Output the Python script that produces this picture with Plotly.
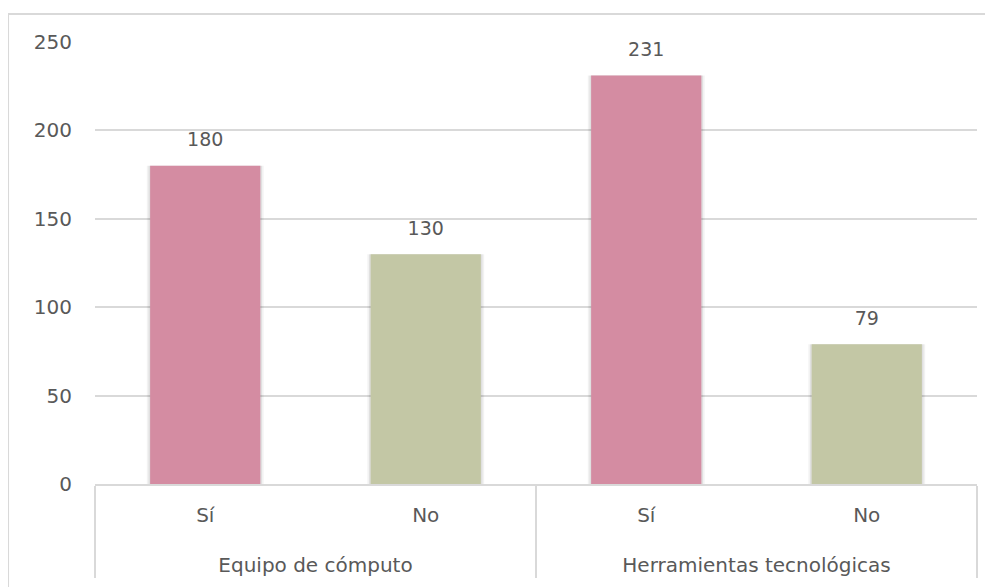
import plotly.graph_objects as go

groups = ["Equipo de cómputo", "Equipo de cómputo", "Herramientas tecnológicas", "Herramientas tecnológicas"]
answers = ["Sí", "No", "Sí", "No"]
values = [180, 130, 231, 79]
bar_colors = ["#d48ca2", "#c3c7a5", "#d48ca2", "#c3c7a5"]
y_ticks = [0, 50, 100, 150, 200, 250]

FONT = "DejaVu Sans"
TXT = "#595959"
GRID = "#d9d9d9"

# first-level labels get a blank second line so the group labels sit lower
answer_labels = [a + "<br><span style='font-size:52px'> </span>" for a in answers]
xcats = [groups, answer_labels]

fig = go.Figure()
# soft shadow layers behind the bars
for w, a in [(0.53, 0.05), (0.515, 0.07)]:
    fig.add_trace(go.Bar(
        x=xcats, y=values, width=w,
        marker=dict(color=f"rgba(0,0,0,{a})", line=dict(width=0)),
        hoverinfo="skip",
    ))
fig.add_trace(go.Bar(
    x=xcats,
    y=values,
    marker=dict(color=bar_colors, line=dict(width=0)),
    width=0.5,
    hoverinfo="skip",
))
fig.add_trace(go.Scatter(
    x=xcats,
    y=values,
    mode="markers+text",
    marker=dict(size=22, opacity=0),
    text=[str(v) for v in values],
    textposition="top center",
    textfont=dict(family=FONT, size=19, color=TXT),
    cliponaxis=False,
    hoverinfo="skip",
))

fig.update_layout(
    width=993, height=587,
    margin=dict(l=87, r=24, t=34, b=111),
    paper_bgcolor="white", plot_bgcolor="white",
    showlegend=False,
    barmode="overlay",
    font=dict(family=FONT, size=20, color=TXT),
    shapes=[dict(type="rect", xref="paper", yref="paper",
                 x0=-0.0986, x1=1.1, y0=-0.4, y1=1.0633,
                 line=dict(color=GRID, width=2), fillcolor="rgba(0,0,0,0)", layer="below")],
)
fig.update_yaxes(range=[0, 250], tickvals=y_ticks, showgrid=True, gridcolor=GRID, gridwidth=1.5,
                 zeroline=False, showline=False, ticks="", ticklabelstandoff=22,
                 tickfont=dict(family=FONT, size=20, color=TXT))
fig.update_xaxes(showline=True, linecolor=GRID, linewidth=1.5,
                 ticks="", ticklabelstandoff=12,
                 showdividers=True, dividercolor=GRID, dividerwidth=1.5,
                 tickfont=dict(family=FONT, size=20, color=TXT))

fig.write_html("out.html", config={"displayModeBar": False})
